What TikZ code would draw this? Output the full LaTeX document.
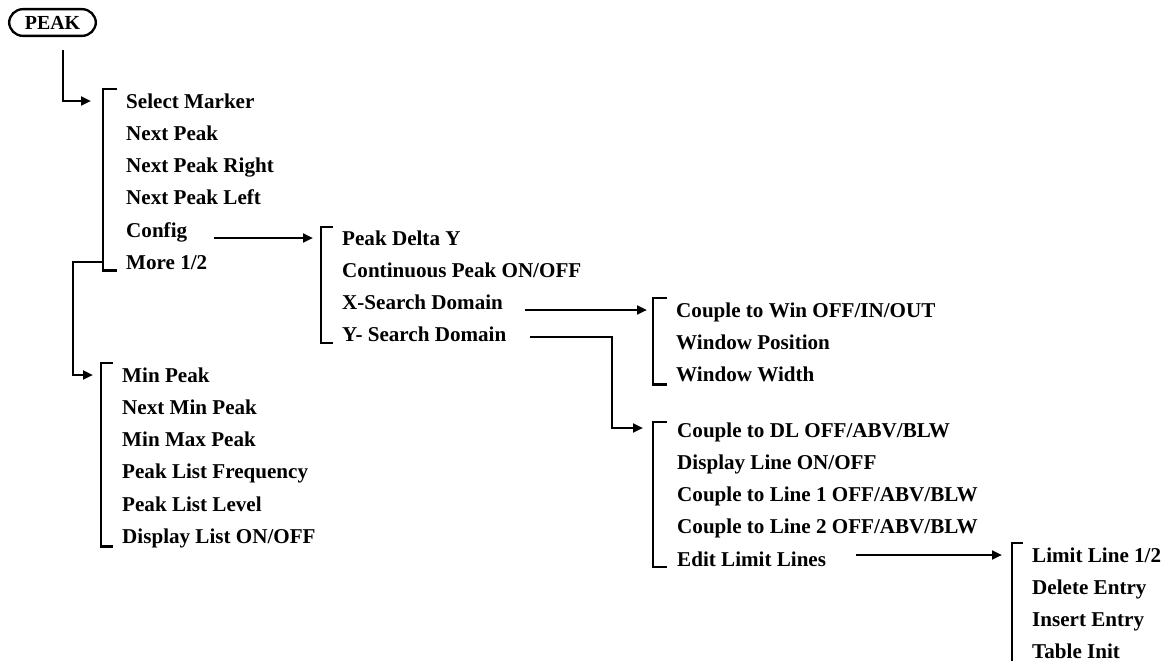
\documentclass[tikz,border=0pt]{standalone}
\usepackage{fontspec}
\setmainfont{Liberation Serif}
\usetikzlibrary{
	positioning,
	arrows.meta
}

\begin{document}
\begin{tikzpicture}[
			x=0.03cm,y=-0.03cm,
			key/.style={
				draw,
				line width=2pt,
				rounded corners=0.41cm,
				minimum width=2.6cm,
				minimum height=0.8cm,
				inner sep=0pt,
				font=\fontsize{17}{17}\selectfont\bfseries
			},
			item/.style={
				anchor=west,
				inner sep=0pt,
				minimum height=0.954cm,
				text height=12pt,
				text depth=0pt,
				font=\fontsize{18}{18}\selectfont\bfseries
			},
			under/.style={below=0pt of #1.south west,anchor=north west},
			link/.style={line width=2pt},
			arrow/.style={link,-{Triangle[length=8.5pt,width=7.5pt]}}
			]
			
			\useasboundingbox (0,0) rectangle (1166,661);
			
			\node[key] (peak) at (52.5,22.5) {PEAK};
			
			\node[item] (sel) at (126,101) {Select Marker};
			\node[item,under=sel] (nxt) {Next Peak};
			\node[item,under=nxt] (nxtr) {Next Peak Right};
			\node[item,under=nxtr] (nxtl) {Next Peak Left};
			\node[item,under=nxtl] (cfg) {Config};
			\node[item,under=cfg] (more) {More 1/2};
			
			\node[item] (pdy) at (342,238) {Peak Delta Y};
			\node[item,under=pdy] (cont) {Continuous Peak ON/OFF};
			\node[item,under=cont] (xsd) {X-Search Domain};
			\node[item,under=xsd] (ysd) {Y- Search Domain};
			
			\node[item] (cwin) at (676,310) {Couple to Win OFF/IN/OUT};
			\node[item,under=cwin] (wpos) {Window Position};
			\node[item,under=wpos] (wwid) {Window Width};
			
			\node[item] (cdl) at (677,430) {Couple to DL OFF/ABV/BLW};
			\node[item,under=cdl] (dline) {Display Line ON/OFF};
			\node[item,under=dline] (cl1) {Couple to Line 1 OFF/ABV/BLW};
			\node[item,under=cl1] (cl2) {Couple to Line 2 OFF/ABV/BLW};
			\node[item,under=cl2] (edit) {Edit Limit Lines};
			
			\node[item] (lim) at (1032,555) {Limit Line 1/2};
			\node[item,under=lim] (del) {Delete Entry};
			\node[item,under=del] (ins) {Insert Entry};
			\node[item,minimum height=0pt] (tinit) at ([shift={(0,31.8)}]ins.west) {Table Init};
			
			\node[item] (minp) at (122,375) {Min Peak};
			\node[item,under=minp] (nminp) {Next Min Peak};
			\node[item,under=nminp] (mmax) {Min Max Peak};
			\node[item,under=mmax] (plf) {Peak List Frequency};
			\node[item,under=plf] (pll) {Peak List Level};
			\node[item,under=pll] (dlist) {Display List ON/OFF};
			
			\draw[link] ([shift={(-9,-12)}]sel.west) -- ++(-14,0) |- ([shift={(-9,8)}]more.west);
			\draw[link] ([shift={(-9,-11)}]pdy.west) -- ++(-12,0) |- ([shift={(-9,8)}]ysd.west);
			\draw[link] ([shift={(-9,-12)}]cwin.west) -- ++(-14,0) |- ([shift={(-9,10)}]wwid.west);
			\draw[link] ([shift={(-10,-8)}]cdl.west) -- ++(-14,0) |- ([shift={(-10,8)}]edit.west);
			\draw[link] ([shift={(-9,-12)}]lim.west) -- ++(-11,0) -- ++(0,118);
			\draw[link] ([shift={(-9,-12)}]minp.west) -- ++(-12,0) |- ([shift={(-9,10)}]dlist.west);
			
			\coordinate (peakout) at (63,50);
			\coordinate (b1in) at (91,101);
			\coordinate (cfgout) at (214,238);
			\coordinate (b2in) at (313,238);
			\coordinate (xout) at (525,310);
			\coordinate (b3in) at (647,310);
			\coordinate (yout) at (530,337);
			\coordinate (yturn) at (612,428);
			\coordinate (b4in) at (643,428);
			\coordinate (editout) at (856,555);
			\coordinate (b5in) at (1002,555);
			\coordinate (moreout) at (103,262);
			\coordinate (mturn) at (73,375);
			\coordinate (b6in) at (93,375);
			
			\draw[arrow] (peakout) |- (b1in);
			\draw[arrow] (cfgout) -- (b2in);
			\draw[arrow] (xout) -- (b3in);
			\draw[arrow] (yout) -| (yturn) -- (b4in);
			\draw[arrow] (editout) -- (b5in);
			\draw[arrow] (moreout) -| (mturn) -- (b6in);
			
		\end{tikzpicture}
\end{document}
